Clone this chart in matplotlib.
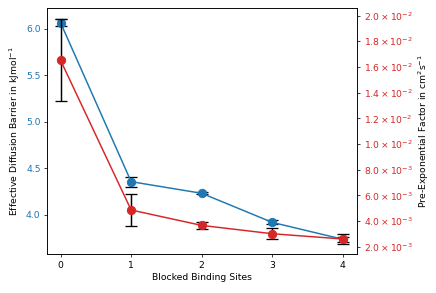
import numpy as np
import matplotlib
matplotlib.use("Agg")
import matplotlib.pyplot as plt
from matplotlib.ticker import FuncFormatter, MultipleLocator

# data
sites = [0, 1, 2, 3, 4]
barrier = [6.068, 4.358, 4.233, 3.920, 3.738]
barrier_err = [0.040, 0.054, 0.012, 0.022, 0.025]
prefactor = [0.01653, 0.00486, 0.00366, 0.00301, 0.00260]
prefactor_err = [0.00320, 0.00123, 0.00027, 0.00043, 0.00040]

blue = "#1f77b4"
red = "#d62728"

DPI = 200 / 3
fig, ax = plt.subplots(figsize=(436 / DPI, 293 / DPI), dpi=DPI)
fig.subplots_adjust(left=0.108, right=0.819, bottom=0.133, top=0.973)

ax.errorbar(sites, barrier, yerr=barrier_err, fmt="o-", color=blue,
            ecolor="black", capsize=6, markersize=9, linewidth=1.6,
            elinewidth=1.6, capthick=1.4)
ax.set_xlabel("Blocked Binding Sites")
ax.set_ylabel(r"Effective Diffusion Barrier in kJmol$^{-1}$")
ax.set_ylim(3.58, 6.226)
ax.set_xlim(-0.19, 4.2)
ax.set_xticks(sites)
ax.yaxis.set_major_locator(MultipleLocator(0.5))
ax.tick_params(axis="y", labelcolor=blue)

ax2 = ax.twinx()
ax2.errorbar(sites, prefactor, yerr=prefactor_err, fmt="o-", color=red,
             ecolor="black", capsize=6, markersize=9, linewidth=1.6,
             elinewidth=1.6, capthick=1.4)
ax2.set_ylim(0.00143, 0.0206)
ax2.yaxis.set_major_locator(MultipleLocator(0.002))


def sci_fmt(v, pos):
    if v <= 0:
        return ""
    exp = int(np.floor(np.log10(v) + 1e-9))
    mant = v / 10 ** exp
    return r"$%.1f\times10^{%d}$" % (mant, exp)


ax2.yaxis.set_major_formatter(FuncFormatter(sci_fmt))
ax2.tick_params(axis="y", labelcolor=red)
ax2.set_ylabel(r"Pre-Exponential Factor in cm$^2$s$^{-1}$")

fig.savefig("out.png", dpi=DPI)
